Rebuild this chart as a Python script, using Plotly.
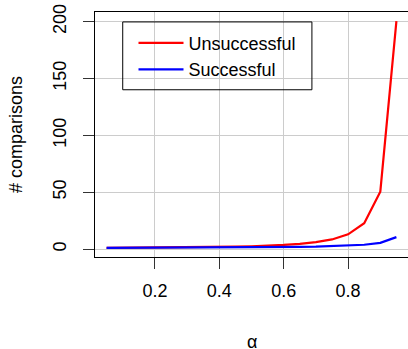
import plotly.graph_objects as go

alpha = [0.05, 0.10, 0.15, 0.20, 0.25, 0.30, 0.35, 0.40, 0.45, 0.50,
         0.55, 0.60, 0.65, 0.70, 0.75, 0.80, 0.85, 0.90, 0.95]
unsuccessful = [1.05, 1.12, 1.19, 1.28, 1.39, 1.52, 1.68, 1.89, 2.15, 2.5,
                2.97, 3.63, 4.58, 6.06, 8.5, 13.0, 22.7, 50.5, 200.5]
successful = [1.03, 1.06, 1.09, 1.13, 1.17, 1.21, 1.27, 1.33, 1.41, 1.5,
              1.61, 1.75, 1.93, 2.17, 2.5, 3.0, 3.83, 5.5, 10.5]
x_ticks = [0.2, 0.4, 0.6, 0.8]
y_ticks = [0, 50, 100, 150, 200]
x_label = "α"
y_label = "# comparisons"

font = "Liberation Sans, Arial, Helvetica, sans-serif"

fig = go.Figure()
fig.add_trace(go.Scatter(x=alpha, y=unsuccessful, mode="lines", name="Unsuccessful",
                         line=dict(color="#ff0000", width=2.2)))
fig.add_trace(go.Scatter(x=alpha, y=successful, mode="lines", name="Successful",
                         line=dict(color="#0000ff", width=2.2)))

axis_common = dict(
    showline=True, linecolor="black", linewidth=1, mirror=True,
    ticks="outside", ticklen=11, tickcolor="#333333", tickwidth=1,
    showgrid=True, gridcolor="#cccccc", gridwidth=1,
    zeroline=False, automargin=False,
    tickfont=dict(family=font, size=18, color="black"),
)

fig.update_layout(
    width=408, height=349,
    margin=dict(l=95, r=0, t=12, b=92),
    paper_bgcolor="white", plot_bgcolor="white",
    font=dict(family=font, size=18, color="black"),
    xaxis=dict(range=[0.014, 0.986], tickvals=x_ticks,
               ticktext=[str(v) for v in x_ticks],
               ticklabelstandoff=6, **axis_common),
    yaxis=dict(range=[-6.95, 208.48], tickvals=y_ticks, tickangle=-90,
               title=dict(text=y_label, standoff=22, font=dict(size=18)),
               ticklabelstandoff=10, **axis_common),
    legend=dict(x=0.123, y=0.948, xanchor="left", yanchor="top",
                bgcolor="rgba(0,0,0,0)", borderwidth=0,
                font=dict(family=font, size=18), itemwidth=45,
                tracegroupgap=0),
    showlegend=True,
    shapes=[dict(type="rect", xref="paper", yref="paper",
                 x0=0.0886, x1=0.693, y0=0.6826, y1=0.9595,
                 line=dict(color="black", width=1), fillcolor="rgba(0,0,0,0)",
                 layer="above")],
    annotations=[dict(text=x_label, xref="paper", yref="paper",
                      x=0.5, y=-0.346, xanchor="center", yanchor="middle",
                      showarrow=False, font=dict(family=font, size=18, color="black"))],
)

fig.write_html("out.html", config={"displayModeBar": False},
               post_script="document.body.style.margin='0';document.body.style.overflow='hidden';")
